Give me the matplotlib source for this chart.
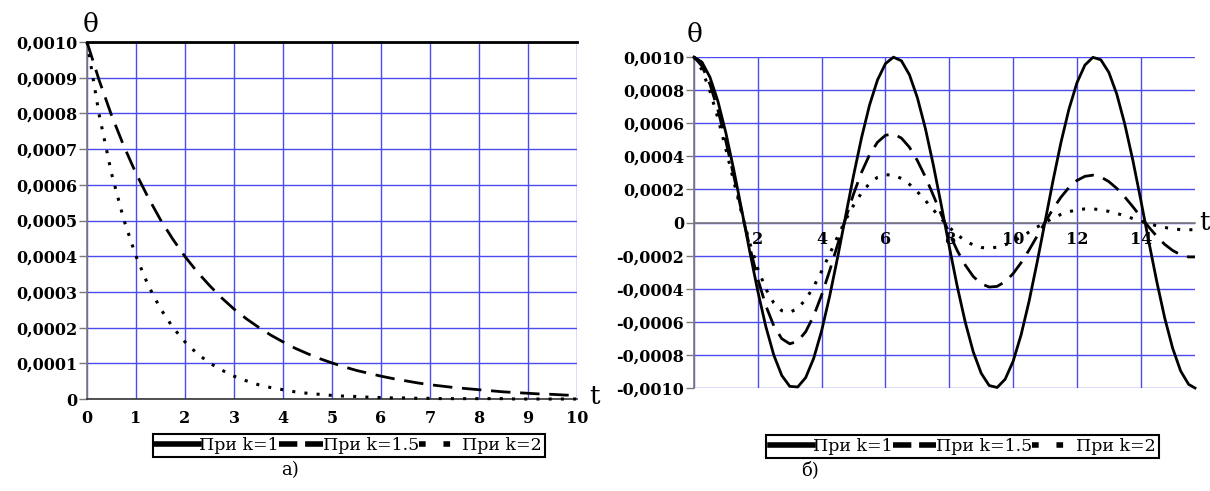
import numpy as np
import matplotlib.pyplot as plt
from matplotlib.ticker import FuncFormatter

# theta values are written in units of 1e-4

# --- panel a) ---
t_a = np.arange(0, 10.01, 0.25)
t_a_k1 = [0, 10]
theta_a_k1 = [10.0, 10.0]
theta_a_k15 = [10.00, 8.92, 7.95, 7.09, 6.32, 5.64, 5.02, 4.48, 3.99, 3.56,
               3.18, 2.83, 2.52, 2.25, 2.01, 1.79, 1.60, 1.42, 1.27, 1.13,
               1.01, 0.90, 0.80, 0.72, 0.64, 0.57, 0.51, 0.45, 0.40, 0.36,
               0.32, 0.29, 0.26, 0.23, 0.20, 0.18, 0.16, 0.14, 0.13, 0.11,
               0.10]
theta_a_k2 = [10.00, 7.95, 6.32, 5.03, 4.00, 3.18, 2.53, 2.01, 1.60, 1.27,
              1.01, 0.81, 0.64, 0.51, 0.40, 0.32, 0.26, 0.20, 0.16, 0.13,
              0.10, 0.08, 0.07, 0.05, 0.04, 0.03, 0.03, 0.02, 0.02, 0.01,
              0.01, 0.01, 0.01, 0.01, 0.01, 0.00, 0.00, 0.00, 0.00, 0.00,
              0.00]

# --- panel б) ---
t_b = np.append(np.arange(0, 15.51, 0.25), 15.7)
theta_b_k1 = [10.00, 9.69, 8.78, 7.32, 5.40, 3.15, 0.71, -1.78, -4.16, -6.28,
              -8.01, -9.24, -9.90, -9.94, -9.37, -8.21, -6.54, -4.46, -2.11, 0.38,
              2.84, 5.12, 7.09, 8.61, 9.60, 9.99, 9.77, 8.93, 7.54, 5.69,
              3.47, 1.04, -1.46, -3.87, -6.02, -7.81, -9.11, -9.85, -9.97, -9.47,
              -8.39, -6.79, -4.76, -2.43, 0.04, 2.52, 4.84, 6.85, 8.44, 9.51,
              9.98, 9.83, 9.07, 7.75, 5.94, 3.78, 1.37, -1.13, -3.55, -5.76,
              -7.60, -8.97, -9.78, -10.00]
theta_b_k15 = [10.00, 9.45, 8.35, 6.79, 4.89, 2.78, 0.61, -1.50, -3.41, -5.02,
               -6.24, -7.02, -7.33, -7.18, -6.60, -5.64, -4.38, -2.92, -1.34, 0.23,
               1.72, 3.03, 4.09, 4.85, 5.27, 5.35, 5.10, 4.55, 3.74, 2.76,
               1.64, 0.48, -0.65, -1.70, -2.57, -3.26, -3.70, -3.90, -3.86, -3.57,
               -3.09, -2.43, -1.66, -0.83, 0.01, 0.82, 1.53, 2.12, 2.54, 2.79,
               2.86, 2.75, 2.47, 2.06, 1.54, 0.96, 0.34, -0.27, -0.83, -1.32,
               -1.69, -1.95, -2.08, -2.08]
theta_b_k2 = [10.00, 9.22, 7.94, 6.30, 4.42, 2.46, 0.52, -1.26, -2.79, -4.01,
              -4.86, -5.33, -5.43, -5.19, -4.65, -3.88, -2.94, -1.91, -0.86, 0.15,
              1.04, 1.79, 2.36, 2.73, 2.89, 2.86, 2.66, 2.31, 1.86, 1.33,
              0.77, 0.22, -0.29, -0.74, -1.10, -1.36, -1.51, -1.55, -1.49, -1.35,
              -1.14, -0.87, -0.58, -0.28, 0.00, 0.27, 0.49, 0.65, 0.77, 0.82,
              0.82, 0.77, 0.67, 0.55, 0.40, 0.24, 0.08, -0.07, -0.20, -0.30,
              -0.38, -0.43, -0.44, -0.43]

labels = ["При k=1", "При k=1.5", "При k=2"]
yticks_a = np.arange(0, 11) * 1e-4
yticks_b = np.arange(-10, 11, 2) * 1e-4

plt.rcParams["font.family"] = ["DejaVu Serif"]

GRID = "#4b4bf0"
SPINE = "#7a7a7a"
unit = 1e-4


def fmt(v, _):
    if abs(v) < 1e-12:
        return "0"
    return f"{v:.4f}".replace(".", ",")


def style_axes(ax):
    ax.set_axisbelow(True)
    ax.grid(True, color=GRID, lw=1.0)
    ax.spines["top"].set_visible(False)
    ax.spines["right"].set_visible(False)
    ax.spines["left"].set_color(SPINE)
    ax.spines["bottom"].set_color(SPINE)
    ax.spines["left"].set_linewidth(1.2)
    ax.spines["bottom"].set_linewidth(1.2)
    ax.yaxis.set_major_formatter(FuncFormatter(fmt))
    ax.tick_params(axis="y", length=6, width=1, color=SPINE, pad=1, labelsize=11.5)
    for lab in ax.get_yticklabels() + ax.get_xticklabels():
        lab.set_fontweight("bold")


def plot_series(ax, t1, y1, t2, y2, t3, y3):
    l1, = ax.plot(t1, np.array(y1) * unit, color="black", lw=2.0, clip_on=False, zorder=3)
    l2, = ax.plot(t2, np.array(y2) * unit, color="black", lw=2.0, dashes=(7, 3.5), clip_on=False, zorder=3)
    l3, = ax.plot(t3, np.array(y3) * unit, color="black", lw=2.2, dashes=(1, 3), clip_on=False, zorder=3)
    return [l1, l2, l3]


fig = plt.figure(figsize=(12.1, 4.91), dpi=100)

# panel a)
ax1 = fig.add_axes([87 / 1210, 1 - 399 / 491, 490 / 1210, 357 / 491])
lines_a = plot_series(ax1, t_a_k1, theta_a_k1, t_a, theta_a_k15, t_a, theta_a_k2)
ax1.set_xlim(0, 10)
ax1.set_ylim(0, 0.001)
ax1.set_xticks(range(0, 11))
ax1.set_yticks(yticks_a)
ax1.tick_params(axis="x", length=0, pad=8, labelsize=11.5)
style_axes(ax1)
ax1.spines["bottom"].set_color("#333333")

# panel б)
ax2 = fig.add_axes([694 / 1210, 1 - 388 / 491, 501 / 1210, 331 / 491])
lines_b = plot_series(ax2, t_b, theta_b_k1, t_b, theta_b_k15, t_b, theta_b_k2)
ax2.set_xlim(0, 15.7)
ax2.set_ylim(-0.001, 0.001)
ax2.set_xticks(range(0, 16, 2))
ax2.xaxis.set_major_formatter(FuncFormatter(lambda v, _: "" if v == 0 else f"{v:.0f}"))
ax2.set_yticks(yticks_b)
ax2.spines["bottom"].set_position(("data", 0))
ax2.tick_params(axis="x", length=0, pad=6, labelsize=11.5)
style_axes(ax2)

# axis symbols
fig.text(91 / 1210, 1 - 25 / 491, "θ", fontsize=19, ha="center", va="center")
fig.text(595 / 1210, 1 - 397 / 491, "t", fontsize=19, ha="center", va="center")
fig.text(695 / 1210, 1 - 35 / 491, "θ", fontsize=19, ha="center", va="center")
fig.text(1204 / 1210, 1 - 223 / 491, "t", fontsize=19, ha="center", va="center")

# legends, thick handles like in the original
for ax, lines, cx, cy in [(ax1, lines_a, 349, 445.5), (ax2, lines_b, 962.5, 446.5)]:
    leg = ax.legend(lines, labels, loc="center", ncol=3,
                    bbox_to_anchor=(cx / 1210, 1 - cy / 491), bbox_transform=fig.transFigure,
                    frameon=True, fancybox=False, edgecolor="black", framealpha=1,
                    handlelength=2.5, handletextpad=0.0, columnspacing=0.0,
                    borderpad=0.2, borderaxespad=0, prop={"size": 12.5})
    leg.get_frame().set_linewidth(1.5)
    hl = leg.get_lines()
    hl[0].set_linewidth(4)
    hl[1].set_linewidth(4)
    hl[1].set_dashes((3.3, 1.4))
    hl[2].set_linewidth(4)
    hl[2].set_dashes((1.2, 3.2))

fig.text(290 / 1210, 1 - 470 / 491, "а)", fontsize=13, ha="center", va="center")
fig.text(810 / 1210, 1 - 470 / 491, "б)", fontsize=13, ha="center", va="center")

fig.savefig("out.png", dpi=100)
